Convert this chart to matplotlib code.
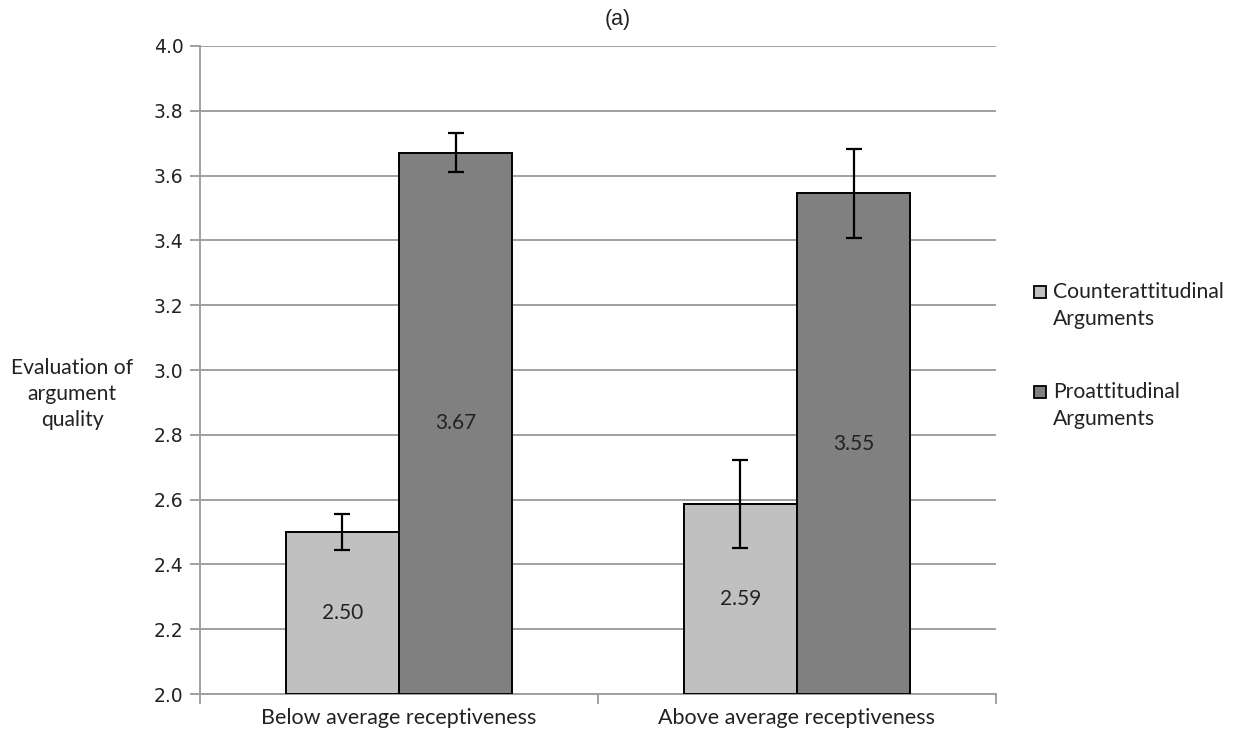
import numpy as np
import matplotlib
matplotlib.use("Agg")
import matplotlib.pyplot as plt
from matplotlib.patches import Rectangle

# ---------------------------------------------------------------------------
# Data
# ---------------------------------------------------------------------------
groups     = ["Below average receptiveness", "Above average receptiveness"]
series     = [["Counterattitudinal", "Arguments"], ["Proattitudinal", "Arguments"]]
counter    = [2.50, 2.586]
pro        = [3.67, 3.545]
counter_se = [0.057, 0.135]
pro_se     = [0.060, 0.137]
counter_lbl = ["2.50", "2.59"]
pro_lbl     = ["3.67", "3.55"]

LIGHT = "#c0c0c0"
DARK  = "#808080"
GRID  = "#a0a0a0"
TEXT  = "#222222"
LABEL_FONT = ["Lato", "DejaVu Sans"]
W, H = 1237, 738

fig = plt.figure(figsize=(12.37, 7.38), dpi=100, facecolor="white")
ax = fig.add_axes([200 / W, 1 - 694 / H, 796 / W, 648 / H])

x = np.arange(len(groups)) + 0.5
w = 0.285

ax.bar(x - w / 2, np.array(counter) - 2.0, w, bottom=2.0, color=LIGHT,
       edgecolor="black", linewidth=1.4, zorder=3)
ax.bar(x + w / 2, np.array(pro) - 2.0, w, bottom=2.0, color=DARK,
       edgecolor="black", linewidth=1.4, zorder=3)
ax.errorbar(x - w / 2, counter, yerr=counter_se, fmt="none", ecolor="black",
            elinewidth=1.6, capsize=6, capthick=1.6, zorder=4)
ax.errorbar(x + w / 2, pro, yerr=pro_se, fmt="none", ecolor="black",
            elinewidth=1.6, capsize=6, capthick=1.6, zorder=4)

for xi, v, s in zip(x - w / 2, counter, counter_lbl):
    ax.text(xi, (2.0 + v) / 2, s, ha="center", va="center", fontsize=15,
            color=TEXT, family=LABEL_FONT, zorder=5)
for xi, v, s in zip(x + w / 2, pro, pro_lbl):
    ax.text(xi, (2.0 + v) / 2, s, ha="center", va="center", fontsize=15,
            color=TEXT, family=LABEL_FONT, zorder=5)

ax.set_xlim(0, 2)
ax.set_ylim(2.0, 4.0)
ax.set_yticks(np.arange(2.0, 4.01, 0.2))
ax.set_yticklabels([f"{t:.1f}" for t in np.arange(2.0, 4.01, 0.2)],
                   fontsize=13.5, color=TEXT)
ax.set_xticks(x)
ax.set_xticklabels(groups, fontsize=15.5, color=TEXT, family=LABEL_FONT)
ax.set_xticks([0, 1, 2], minor=True)
ax.tick_params(axis="x", which="major", length=0, pad=10)
ax.tick_params(axis="x", which="minor", length=7, color=GRID, width=1.4)
ax.tick_params(axis="y", length=7, color=GRID, width=1.4, pad=5)

ax.yaxis.grid(True, color=GRID, linewidth=1.4, zorder=0)
ax.set_axisbelow(True)
for side in ["top", "right"]:
    ax.spines[side].set_visible(False)
for side in ["left", "bottom"]:
    ax.spines[side].set_color(GRID)
    ax.spines[side].set_linewidth(1.4)

fig.text(72 / W, 1 - 394 / H, "Evaluation of\nargument\nquality",
         ha="center", va="center", fontsize=15.2, color=TEXT,
         family=LABEL_FONT, linespacing=1.4)
fig.text(618 / W, 1 - 20 / H, "(a)", ha="center", va="center",
         fontsize=15.5, color=TEXT, family="Liberation Sans")

# legend drawn by hand: square sits next to the first line of each label
for (line1, line2), col, y0 in zip(series, [LIGHT, DARK], [292, 392]):
    fig.patches.append(Rectangle((1034 / W, 1 - (y0 + 6) / H), 12 / W, 12 / H,
                                 transform=fig.transFigure, facecolor=col,
                                 edgecolor="black", linewidth=1.3))
    fig.text(1053 / W, 1 - y0 / H, line1, ha="left", va="center",
             fontsize=15.2, color=TEXT, family=LABEL_FONT)
    fig.text(1053 / W, 1 - (y0 + 27) / H, line2, ha="left", va="center",
             fontsize=15.2, color=TEXT, family=LABEL_FONT)

fig.savefig("out.png", dpi=100, facecolor="white")
